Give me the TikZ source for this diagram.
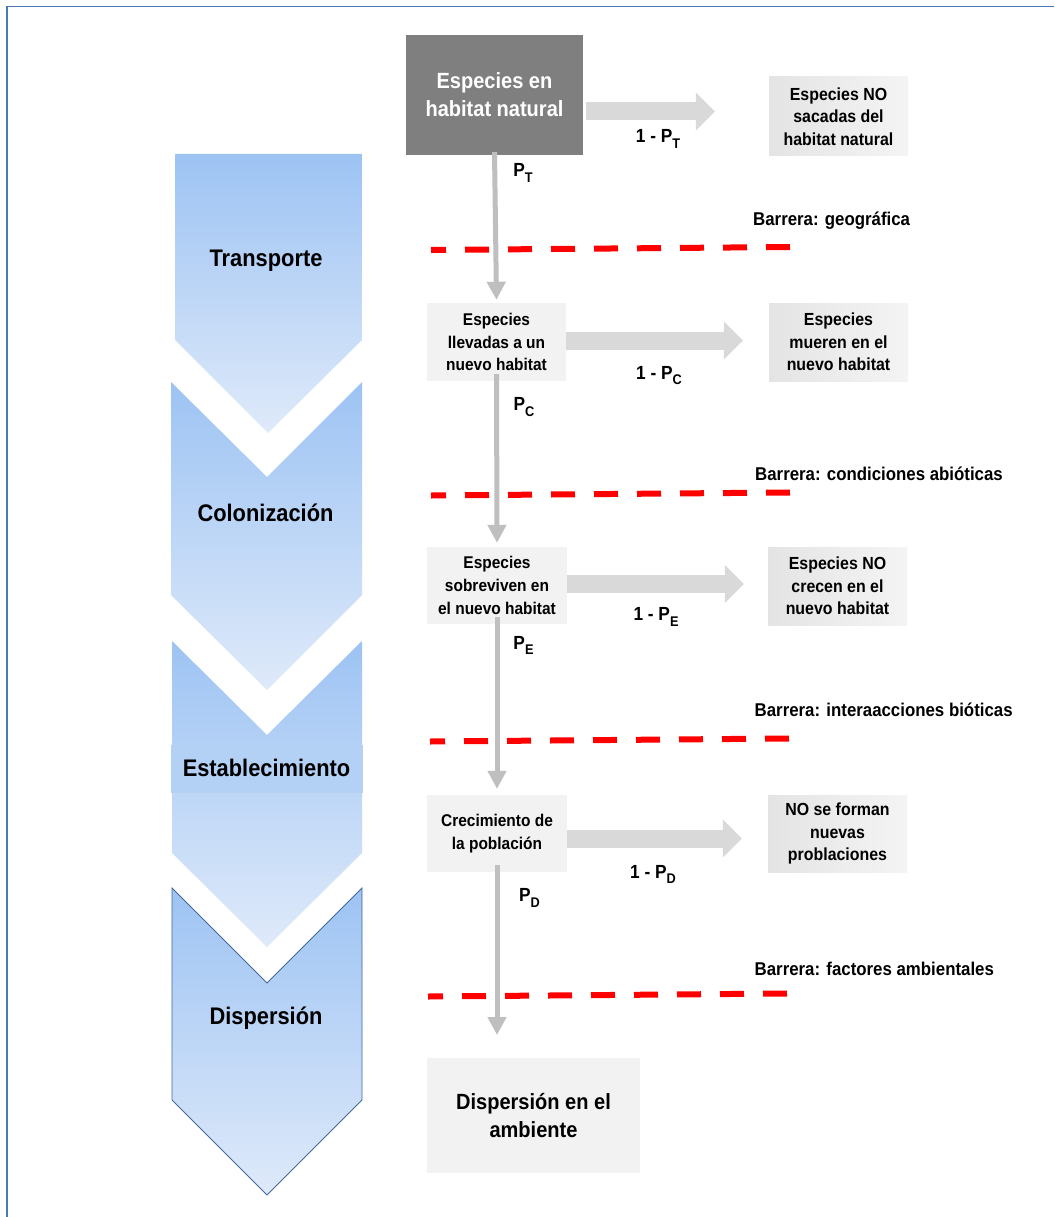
\documentclass[tikz,border=0pt]{standalone}
\usepackage{fontspec}
\setmainfont{Liberation Sans}[FakeStretch=0.91]
\usetikzlibrary{arrows.meta,calc}
\definecolor{boxdark}{HTML}{7F7F7F}
\definecolor{boxlight}{HTML}{F2F2F2}
\definecolor{sideL}{HTML}{E4E4E4}
\definecolor{sideR}{HTML}{F4F4F4}
\definecolor{chevtop}{HTML}{9DC3F3}
\definecolor{chevbot}{HTML}{DFEAFA}
\definecolor{chevband}{HTML}{B3D0F5}
\definecolor{chevedge}{HTML}{41699A}
\definecolor{harrow}{HTML}{D9D9D9}
\definecolor{varrow}{HTML}{BFBFBF}
\definecolor{frameblue}{HTML}{4A7AB5}
\definecolor{barred}{HTML}{FF0000}
\newcommand\psub[1]{\raisebox{-5.5pt}{\fontsize{14}{14}\selectfont #1}}
\begin{document}
\begin{tikzpicture}[x=1pt,y=-1pt,
  darkbox/.style={fill=boxdark, text=white, inner sep=0pt, align=center,
    font=\bfseries\fontsize{22}{28}\selectfont},
  lightbox/.style={fill=boxlight, inner sep=0pt, align=center,
    font=\bfseries\fontsize{17}{22.7}\selectfont},
  bigbox/.style={fill=boxlight, inner sep=0pt, align=center,
    font=\bfseries\fontsize{22}{28.7}\selectfont},
  sidebox/.style={left color=sideL, right color=sideR, inner sep=0pt, align=center,
    font=\bfseries\fontsize{17.5}{22.5}\selectfont},
  chevlabel/.style={anchor=base, inner sep=0pt, font=\bfseries\fontsize{24}{28}\selectfont},
  problabel/.style={anchor=base, inner sep=0pt, font=\bfseries\fontsize{19}{22}\selectfont},
  barlabel/.style={anchor=base west, inner sep=0pt, font=\bfseries\fontsize{18.5}{22}\selectfont},
  barrier/.style={draw=barred, line width=6pt, dash pattern=on 24pt off 19pt, dash phase=9pt},
  blockarrow/.style={draw=harrow, line width=18pt, -{Triangle[length=19pt,width=37pt]}},
  downarrow/.style={draw=varrow, line width=5pt, -{Triangle[length=18pt,width=18pt]}},
  chev/.style={top color=chevtop, bottom color=chevbot, draw=none}
]
\useasboundingbox (0,0) rectangle (1054,1217);
\fill[white] (0,0) rectangle (1054,1217);
\draw[frameblue, line width=1.6pt] (6.7,1217) -- (6.7,6.7) -- (1054,6.7);

% chevrons
\shade[chev] (175,154) -- (362,154) -- (362,340) -- (268,433) -- (175,340) -- cycle;
\shade[chev] (171,382) -- (267,477) -- (362,382) -- (362,595) -- (267,690) -- (171,595) -- cycle;
\shade[chev] (172,641) -- (267,735) -- (362,641) -- (362,853) -- (267,947) -- (172,853) -- cycle;
\fill[chevband] (171,745) rectangle (363,793);
\shade[chev, draw=chevedge, line width=0.9pt] (172,888) -- (267,983) -- (362,888) -- (362,1100) -- (267,1195) -- (172,1100) -- cycle;

\node[chevlabel] (ltr) at (266,266) {Transporte};
\node[chevlabel] (lco) at (265.5,521) {Colonización};
\node[chevlabel] (les) at (266.5,776.7) {Establecimiento};
\node[chevlabel] (ldi) at (266,1024) {Dispersión};

% main boxes
\node[darkbox, minimum width=177pt, minimum height=120pt] (b1) at (494.5,95) {Especies en\\habitat natural};
\node[lightbox, minimum width=139pt, minimum height=78pt] (b2) at (496.5,342) {Especies\\llevadas a un\\nuevo habitat};
\node[lightbox, minimum width=140pt, minimum height=77pt] (b3) at (497,585.5) {Especies\\sobreviven en\\el nuevo habitat};
\node[lightbox, minimum width=140pt, minimum height=77pt] (b4) at (497,833.5) {Crecimiento de\\la población};
\node[bigbox, minimum width=213pt, minimum height=115pt] (b5) at (533.5,1115.5) {Dispersión en el\\ambiente};

% side boxes
\node[sidebox, minimum width=139pt, minimum height=79pt] (r1) at (838.5,116.5) {Especies NO\\sacadas del\\habitat natural};
\node[sidebox, minimum width=139pt, minimum height=78pt] (r2) at (838.5,342) {Especies\\mueren en el\\nuevo habitat};
\node[sidebox, minimum width=139pt, minimum height=78pt] (r3) at (837.5,586) {Especies NO\\crecen en el\\nuevo habitat};
\node[sidebox, minimum width=139pt, minimum height=77pt] (r4) at (837.5,833.5) {NO se forman\\nuevas\\problaciones};

% horizontal block arrows
\draw[blockarrow] ([xshift=3pt,yshift=-16.5pt]b1.east) -- ([xshift=-54pt,yshift=5pt]r1.west);
\draw[blockarrow] ([yshift=1.5pt]b2.east) -- ([xshift=-26pt,yshift=1.5pt]r2.west);
\draw[blockarrow] ([yshift=1.5pt]b3.east) -- ([xshift=-24pt,yshift=2pt]r3.west);
\draw[blockarrow] ([yshift=-5pt]b4.east) -- ([xshift=-26pt,yshift=-5pt]r4.west);

% barriers
\coordinate (d1a) at (431,250); \coordinate (d1b) at (790,247);
\coordinate (d2a) at (431,495.5); \coordinate (d2b) at (790,492.5);
\coordinate (d3a) at (430,741.5); \coordinate (d3b) at (790,738.5);
\coordinate (d4a) at (428,996.5); \coordinate (d4b) at (789,993.5);
\draw[barrier] (d1a) -- (d1b);
\draw[barrier] (d2a) -- (d2b);
\draw[barrier] (d3a) -- (d3b);
\draw[barrier] (d4a) -- (d4b);

\node[barlabel] (bl1) at (753,225) {Barrera: geográfica};
\node[barlabel] (bl2) at (755,480) {Barrera: condiciones abióticas};
\node[barlabel] (bl3) at (754.5,716.7) {Barrera: interaacciones bióticas};
\node[barlabel] (bl4) at (754.5,975) {Barrera: factores ambientales};

% vertical arrows
\coordinate (end5) at (497,1035);
\draw[downarrow] ([yshift=3pt]b1.south) -- ([yshift=3pt]b2.north);
\draw[downarrow] ([yshift=7pt]b2.south) -- ([yshift=4pt]b3.north);
\draw[downarrow] ([yshift=7pt]b3.south) -- ([yshift=6pt]b4.north);
\draw[downarrow] ([yshift=7pt]b4.south) -- (end5);

% probability labels
\node[problabel] (q1) at (658,143) {1 - P\psub{T}};
\node[problabel] (q2) at (659,379) {1 - P\psub{C}};
\node[problabel] (q3) at (656,620.7) {1 - P\psub{E}};
\node[problabel] (q4) at (653,878) {1 - P\psub{D}};
\node[problabel] (p1) at (523,177) {P\psub{T}};
\node[problabel] (p2) at (524,410.7) {P\psub{C}};
\node[problabel] (p3) at (523.5,649) {P\psub{E}};
\node[problabel] (p4) at (529.5,901.7) {P\psub{D}};
\end{tikzpicture}
\end{document}
